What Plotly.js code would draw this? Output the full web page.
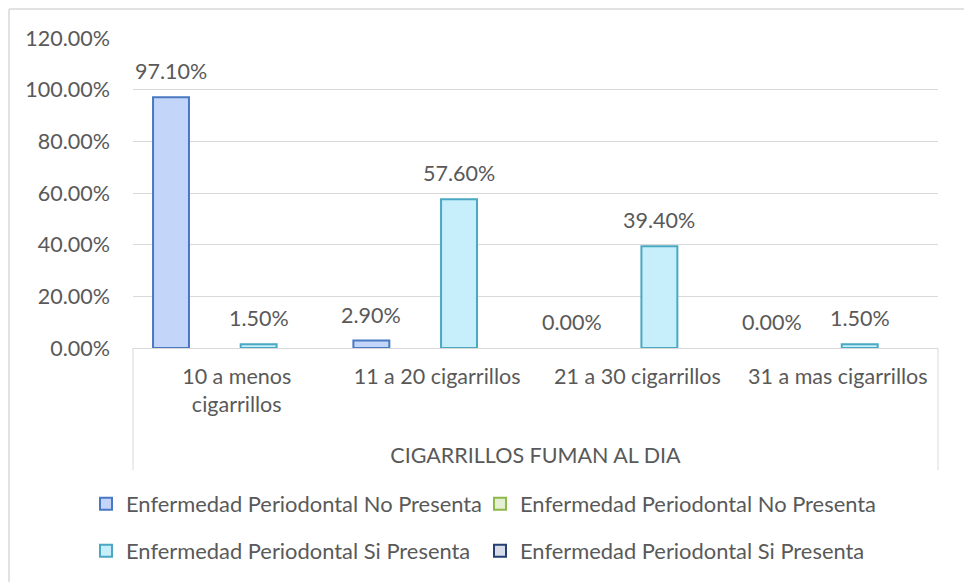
<!DOCTYPE html>
<html>
<head>
<meta charset="utf-8">
<script src="https://cdn.plot.ly/plotly-3.0.1.min.js"></script>
<style>html,body{margin:0;padding:0;background:#fff;}#chart{width:964px;height:582px;}</style>
</head>
<body>
<div id="chart"></div>
<script>
var categories = ["10 a menos<br>cigarrillos", "11 a 20 cigarrillos", "21 a 30 cigarrillos", "31 a mas cigarrillos"];
var noPresenta = [0.971, 0.029, 0.0, 0.0];
var noPresentaEmpty = [null, null, null, null];
var siPresenta = [0.015, 0.576, 0.394, 0.015];
var siPresentaEmpty = [null, null, null, null];
var seriesNames = ["Enfermedad Periodontal No Presenta", "Enfermedad Periodontal No Presenta", "Enfermedad Periodontal Si Presenta", "Enfermedad Periodontal Si Presenta"];
var axisTitle = "CIGARRILLOS FUMAN AL DIA";
var yTicks = [0, 0.2, 0.4, 0.6, 0.8, 1.0, 1.2];

var FONT = "Lato, 'Open Sans', sans-serif";
var FS = 21.5, LEGFS = 21.9;
var GRAY = "#595959";
var BARGAP = 0.125, GROUPGAP = 0.18, NSERIES = 4;

function barTrace(y, name, fill, line, legend) {
  return {
    type: "bar", x: categories, y: y, name: name, legend: legend,
    marker: {color: fill, line: {color: line, width: y.map(function(v){ return v === 0 ? 0 : 2; })}},
    cliponaxis: false, hoverinfo: "x+y"
  };
}

var data = [
  barTrace(noPresenta, seriesNames[0], "#c3d6f9", "#4a78c2", "legend"),
  barTrace(noPresentaEmpty, seriesNames[1], "#e4f0d2", "#8db84a", "legend2"),
  barTrace(siPresenta, seriesNames[2], "#c6effb", "#4aa8c2", "legend3"),
  barTrace(siPresentaEmpty, seriesNames[3], "#d6dcea", "#243f70", "legend4")
];

// value labels, placed through the axis scales at each bar's slot
var annotations = [];
[[noPresenta, 0], [siPresenta, 2]].forEach(function(pair) {
  var vals = pair[0], slot = pair[1];
  var slotW = (1 - BARGAP) / NSERIES;
  vals.forEach(function(v, i) {
    annotations.push({
      xref: "x", yref: "y", x: i + (slot - (NSERIES - 1) / 2) * slotW, y: v,
      text: (v * 100).toFixed(2) + "%", showarrow: false,
      xanchor: "center", yanchor: "bottom", yshift: 11,
      font: {family: FONT, size: FS, color: GRAY}
    });
  });
});

var W = 964, H = 582, L = 133, R = 938, T = 38, B = 348;
function px(x){ return (x - L) / (R - L); }
function py(y){ return (B - y) / (B - T); }
var lineCol = "#d9d9d9";

function legendAt(xPix, yPix) {
  return {
    orientation: "h", xref: "container", yref: "container",
    x: xPix / W, xanchor: "left", y: 1 - yPix / H, yanchor: "top",
    font: {family: FONT, size: LEGFS, color: GRAY}, itemwidth: 30,
    bgcolor: "rgba(0,0,0,0)"
  };
}

var layout = {
  width: W, height: H,
  margin: {l: L, r: W - R, t: T, b: H - B, pad: 0},
  paper_bgcolor: "#ffffff", plot_bgcolor: "#ffffff",
  font: {family: FONT, size: FS, color: GRAY},
  barmode: "group", bargap: BARGAP, bargroupgap: GROUPGAP,
  showlegend: true,
  xaxis: {
    type: "category", showgrid: false, showline: true, linecolor: lineCol, linewidth: 1,
    ticks: "", tickfont: {family: FONT, size: FS, color: GRAY},
    ticklabelstandoff: 9,
    title: {text: axisTitle, font: {family: FONT, size: FS, color: GRAY}, standoff: 32},
    fixedrange: true
  },
  yaxis: {
    range: [0, 1.2], tickvals: yTicks, tickformat: ".2%",
    showgrid: true, gridcolor: lineCol, gridwidth: 1, zeroline: false, showline: false,
    ticks: "", tickfont: {family: FONT, size: FS, color: GRAY}, ticklabelstandoff: 22,
    fixedrange: true
  },
  legend: legendAt(86, 483),
  legend2: legendAt(480, 483),
  legend3: legendAt(86, 530),
  legend4: legendAt(480, 530),
  annotations: annotations,
  shapes: [
    {type: "line", xref: "paper", yref: "paper", x0: 0, x1: 0, y0: 0, y1: py(470), line: {color: lineCol, width: 1}},
    {type: "line", xref: "paper", yref: "paper", x0: 1, x1: 1, y0: 0, y1: py(470), line: {color: lineCol, width: 1}},
    {type: "line", xref: "paper", yref: "paper", x0: px(9), x1: px(9), y0: py(9), y1: py(600), line: {color: lineCol, width: 1.5}},
    {type: "line", xref: "paper", yref: "paper", x0: px(9), x1: px(980), y0: py(9), y1: py(9), line: {color: lineCol, width: 1.5}}
  ]
};

Plotly.newPlot("chart", data, layout, {displayModeBar: false, staticPlot: true});
</script>
</body>
</html>
